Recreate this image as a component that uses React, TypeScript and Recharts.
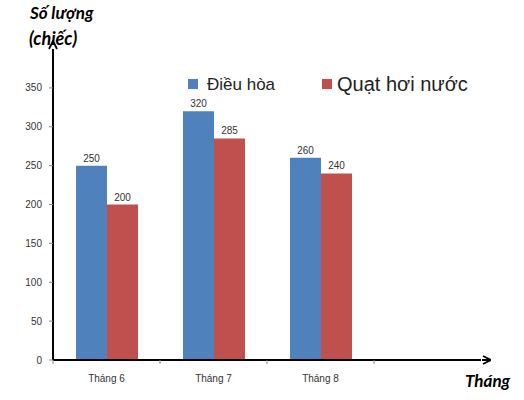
import React from 'react';
import { BarChart, Bar, XAxis, YAxis, Legend, LabelList } from 'recharts';

const months = ['Tháng 6', 'Tháng 7', 'Tháng 8', ''];
const dieuHoa = [250, 320, 260, null];
const quatHoiNuoc = [200, 285, 240, null];
const yTicks = [0, 50, 100, 150, 200, 250, 300, 350];

const seriesOrder = ['dieuHoa', 'quat'];
const seriesNames = { dieuHoa: 'Điều hòa', quat: 'Quạt hơi nước' };
const legendFont: Record<string, number> = { dieuHoa: 17, quat: 20 };

const data = months.map((m, i) => ({ month: m, dieuHoa: dieuHoa[i], quat: quatHoiNuoc[i] }));

const font = '"Liberation Sans", Arial, sans-serif';
const titleStyle: React.CSSProperties = {
  position: 'absolute',
  fontFamily: 'Lato, "Open Sans", sans-serif',
  fontWeight: 700,
  fontStyle: 'italic',
  fontSize: 17,
  lineHeight: 1,
  color: '#000',
  whiteSpace: 'nowrap',
};

// category tick: label in the middle, small tick mark at the left edge of the band
const MonthTick = (props: any) => {
  const { x, y, payload, width, visibleTicksCount } = props;
  const band = width / visibleTicksCount;
  return (
    <g>
      <line x1={x - band / 2} x2={x - band / 2} y1={y - 8} y2={y - 4} stroke="#888" strokeWidth={1} />
      <text x={x} y={y + 14} textAnchor="middle" fontSize={10} fill="#333" fontFamily={font}>
        {payload.value}
      </text>
    </g>
  );
};

const LegendContent = (props: any) => {
  const items = [...(props.payload || [])].sort(
    (a: any, b: any) => seriesOrder.indexOf(a.dataKey) - seriesOrder.indexOf(b.dataKey)
  );
  return (
    <div style={{ display: 'flex', alignItems: 'center', fontFamily: font }}>
      {items.map((p: any, i: number) => (
        <div key={p.dataKey} style={{ display: 'flex', alignItems: 'center', marginRight: i === 0 ? 47 : 0 }}>
          <span style={{ width: 10, height: 10, background: p.color, display: 'inline-block', marginRight: i === 0 ? 9 : 5 }} />
          <span style={{ fontSize: legendFont[p.dataKey], color: '#222', lineHeight: 1 }}>{p.value}</span>
        </div>
      ))}
    </div>
  );
};

export default function App() {
  return (
    <div style={{ position: 'absolute', left: 0, top: 0, width: 524, height: 400, background: '#fff' }}>
      <BarChart
        width={524}
        height={400}
        data={data}
        margin={{ top: 49, right: 43, left: 0, bottom: 10 }}
        barCategoryGap={23}
        barGap={0}
      >
        <defs>
          <marker id="arrowUp" viewBox="0 0 10 10" refX={1} refY={5} markerWidth={10} markerHeight={10}
            markerUnits="userSpaceOnUse" orient="auto-start-reverse">
            <path d="M1,1 L9,5 L1,9" fill="none" stroke="#000" strokeWidth={1.8} />
          </marker>
          <marker id="arrowRight" viewBox="0 0 10 10" refX={0} refY={5} markerWidth={10} markerHeight={10}
            markerUnits="userSpaceOnUse" orient="auto">
            <path d="M1,5 L10,5 M2,1 L10,5 L2,9" fill="none" stroke="#000" strokeWidth={1.8} />
          </marker>
        </defs>
        <XAxis
          dataKey="month"
          height={30}
          interval={0}
          tickSize={4}
          tickMargin={4}
          tickLine={false}
          axisLine={{ stroke: '#000', strokeWidth: 2, markerEnd: 'url(#arrowRight)' }}
          tick={<MonthTick />}
        />
        <YAxis
          width={53}
          domain={[0, 400]}
          ticks={yTicks}
          tickSize={4}
          tickMargin={7}
          tickLine={{ stroke: '#888' }}
          axisLine={{ stroke: '#000', strokeWidth: 2, markerStart: 'url(#arrowUp)' }}
          tick={{ fontSize: 10, fill: '#333', fontFamily: font }}
          allowDataOverflow
        />
        <Legend
          layout="horizontal"
          verticalAlign="middle"
          align="center"
          content={<LegendContent />}
          wrapperStyle={{ top: 74, left: 188, width: 'auto' }}
        />
        <Bar dataKey="dieuHoa" name={seriesNames.dieuHoa} fill="#4F81BD" isAnimationActive={false}>
          <LabelList dataKey="dieuHoa" position="top" offset={4} fontSize={10} fill="#333" fontFamily={font} />
        </Bar>
        <Bar dataKey="quat" name={seriesNames.quat} fill="#C0504D" isAnimationActive={false}>
          <LabelList dataKey="quat" position="top" offset={4} fontSize={10} fill="#333" fontFamily={font} />
        </Bar>
      </BarChart>
      <div style={{ ...titleStyle, left: 30, top: 4 }}>Số lượng</div>
      <div style={{ ...titleStyle, left: 29, top: 29, fontSize: 18 }}>(chiếc)</div>
      <div style={{ ...titleStyle, left: 465, top: 372 }}>Tháng</div>
    </div>
  );
}
